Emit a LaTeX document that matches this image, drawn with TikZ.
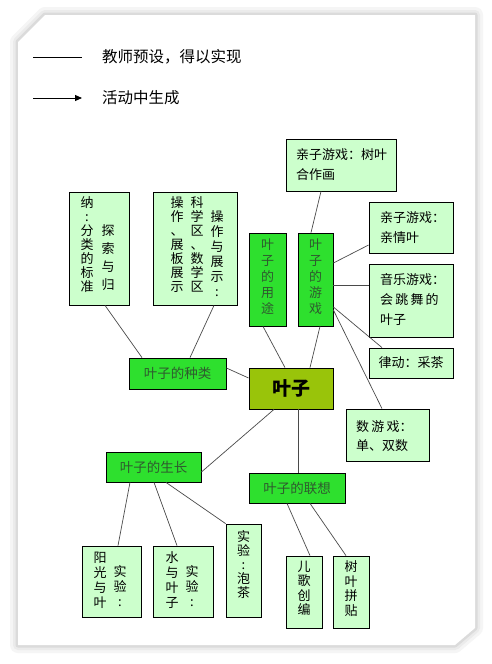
\documentclass[tikz,border=0pt]{standalone}
\usepackage{fontspec}
\newfontfamily\cjk{Noto Sans CJK SC}
\usetikzlibrary{arrows.meta}
\definecolor{lgreen}{HTML}{CCFFCC}
\definecolor{bgreen}{HTML}{2EE02E}
\definecolor{leafolive}{HTML}{99C40A}
\definecolor{gtext}{HTML}{2F5A2F}
\definecolor{lin}{HTML}{4A4A4A}
\newcommand\vcol[6]{\node[vt, font=\cjk\fontsize{13}{#4}\selectfont, text=#6] (#1) at (#2,#3-6.5) {#5};}
\begin{document}
\begin{tikzpicture}[x=1pt,y=-1pt,
  lbox/.style={draw=black, line width=0.8pt, fill=lgreen, inner sep=0pt, font=\cjk\fontsize{13}{16}\selectfont},
  gbox/.style={draw=black, line width=0.8pt, fill=bgreen, inner sep=0pt, text=gtext, font=\cjk\fontsize{13.5}{16}\selectfont},
  obox/.style={draw=black, line width=0.8pt, fill=leafolive, inner sep=0pt, font=\cjk\bfseries\fontsize{19}{22}\selectfont},
  vt/.style={anchor=north, inner sep=0pt, align=center},
  ht/.style={anchor=north west, inner sep=0pt, align=left, font=\cjk\fontsize{13}{20}\selectfont},
  con/.style={draw=lin, line width=0.7pt},
  leg/.style={anchor=west, inner sep=0pt, font=\cjk\fontsize{15.5}{18}\selectfont}]
\useasboundingbox (0,0) rectangle (491,664);
\fill[white] (0,0) rectangle (491,664);
% paper with soft shadow
\def\paper{(45,15) -- (475,15) -- (475,628) -- (455,645) -- (18,645) -- (18,42) -- cycle}
\draw[black!4, line width=16pt, line join=round] \paper;
\draw[black!8, line width=10pt, line join=round] \paper;
\draw[black!14, line width=5pt, line join=round] \paper;
\fill[white] \paper;

% legend
\coordinate (l1a) at (33,57); \coordinate (l1b) at (82,57);
\coordinate (l2a) at (33,98); \coordinate (l2b) at (82,98);
\draw[black, line width=0.9pt] (l1a) -- (l1b);
\draw[black, line width=0.9pt, -{Triangle[length=7pt,width=6pt]}] (l2a) -- (l2b);
\node[leg] (leg1) at (102,57) {教师预设，得以实现};
\node[leg] (leg2) at (102,98) {活动中生成};

% boxes
\node[obox, minimum width=84pt, minimum height=41pt] (tz) at (291,388.5) {叶子};
\node[gbox, minimum width=97pt, minimum height=31pt] (zl) at (177.5,373.5) {叶子的种类};
\node[lbox, minimum width=60pt, minimum height=113pt] (ts) at (99,248.5) {};
\node[lbox, minimum width=84pt, minimum height=113pt] (cz) at (195,248.5) {};
\node[gbox, minimum width=37pt, minimum height=93pt] (yt) at (267.5,279.5) {};
\node[gbox, minimum width=35pt, minimum height=93pt] (yx) at (315.5,279.5) {};
\node[lbox, minimum width=110pt, minimum height=52pt] (hz) at (341,165) {};
\node[lbox, minimum width=84pt, minimum height=51pt] (qq) at (411,227.5) {};
\node[lbox, minimum width=84pt, minimum height=73pt] (yy) at (411,300.5) {};
\node[lbox, minimum width=84pt, minimum height=30pt] (ld) at (411,363) {律动：采茶};
\node[lbox, minimum width=83pt, minimum height=52pt] (ss) at (387.5,435) {};
\node[gbox, minimum width=96pt, minimum height=30pt] (lx) at (297,488) {叶子的联想};
\node[gbox, minimum width=95pt, minimum height=30pt] (sz) at (153.5,467) {叶子的生长};
\node[lbox, minimum width=59pt, minimum height=71pt] (yg) at (111.5,581.5) {};
\node[lbox, minimum width=60pt, minimum height=71pt] (sy) at (183,581.5) {};
\node[lbox, minimum width=35pt, minimum height=93pt] (pc) at (243.5,570.5) {};
\node[lbox, minimum width=36pt, minimum height=72pt] (eg) at (304,592) {};
\node[lbox, minimum width=36pt, minimum height=72pt] (sp) at (351,592) {};

% vertical texts
\vcol{ts1}{108}{231}{18}{探\\索\\与\\归}{black}
\vcol{ts2}{87}{203}{14}{纳\\:\\分\\类\\的\\标\\准}{black}
\vcol{cz1}{217}{217}{15}{操\\作\\与\\展\\示\\:}{black}
\vcol{cz2}{197}{203}{14}{科\\学\\区\\、\\数\\学\\区}{black}
\vcol{cz3}{177}{203}{14}{操\\作\\、\\展\\板\\展\\示}{black}
\vcol{yt1}{267.5}{245}{16}{叶\\子\\的\\用\\途}{gtext}
\vcol{yx1}{315.5}{245}{16}{叶\\子\\的\\游\\戏}{gtext}
\vcol{yg1}{120}{572}{15}{实\\验\\:}{black}
\vcol{yg2}{100}{558}{15}{阳\\光\\与\\叶}{black}
\vcol{sy1}{192}{572}{15}{实\\验\\:}{black}
\vcol{sy2}{172}{558}{15}{水\\与\\叶\\子}{black}
\vcol{pc1}{243.5}{537}{14}{实\\验\\:\\泡\\茶}{black}
\vcol{eg1}{304}{567}{14.5}{儿\\歌\\创\\编}{black}
\vcol{sp1}{351}{567}{14.5}{树\\叶\\拼\\贴}{black}

% horizontal multi-line texts
\node[ht] (hzt) at (296,155-6.5) {亲子游戏：树叶\\合作画};
\node[ht] (qqt) at (380,218-6.5) {亲子游戏：\\亲情叶};
\node[ht] (yyt) at (380,280-6.5) {音乐游戏：\\会\,跳\,舞\,的\\叶子};
\node[ht, font=\cjk\fontsize{13}{19}\selectfont] (sst) at (356,427-6.5) {数\,游\,戏：\\单、双数};

% connectors
\draw[con] ([xshift=-35.5pt]zl.north) -- ([xshift=6pt]ts.south);
\draw[con] ([xshift=12.5pt]zl.north) -- ([xshift=19pt]cz.south);
\draw[con] ([yshift=5.5pt]zl.east) -- ([yshift=10.5pt]tz.west);
\draw[con] ([xshift=-4.5pt]yt.south) -- ([xshift=-6pt]tz.north);
\draw[con] ([xshift=4.5pt]yx.south) -- ([xshift=19pt]tz.north);
\draw[con] ([xshift=-4.5pt]yx.north) -- ([xshift=-20pt]hz.south);
\draw[con] ([yshift=16.5pt]yx.east) -- ([yshift=-17.5pt]qq.west);
\draw[con] ([yshift=-5.5pt]yx.east) -- ([yshift=15.5pt]yy.west);
\draw[con] ([yshift=-27.5pt]yx.east) -- ([xshift=-29pt]ld.north);
\draw[con] ([yshift=-30.5pt]yx.east) -- ([xshift=-5.5pt]ss.north);
\draw[con] ([xshift=7pt]tz.south) -- ([xshift=1pt]lx.north);
\draw[con] ([xshift=-17pt]tz.south) -- ([yshift=-5pt]sz.east);
\draw[con] ([xshift=-23.5pt]sz.south) -- ([xshift=6.5pt]yg.north);
\draw[con] ([xshift=0.5pt]sz.south) -- ([xshift=-6pt]sy.north);
\draw[con] ([xshift=12.5pt]sz.south) -- (pc.north west);
\draw[con] ([xshift=-10pt]lx.south) -- ([xshift=6pt]eg.north);
\draw[con] ([xshift=13pt]lx.south) -- ([xshift=-5pt]sp.north);
\end{tikzpicture}
\end{document}
